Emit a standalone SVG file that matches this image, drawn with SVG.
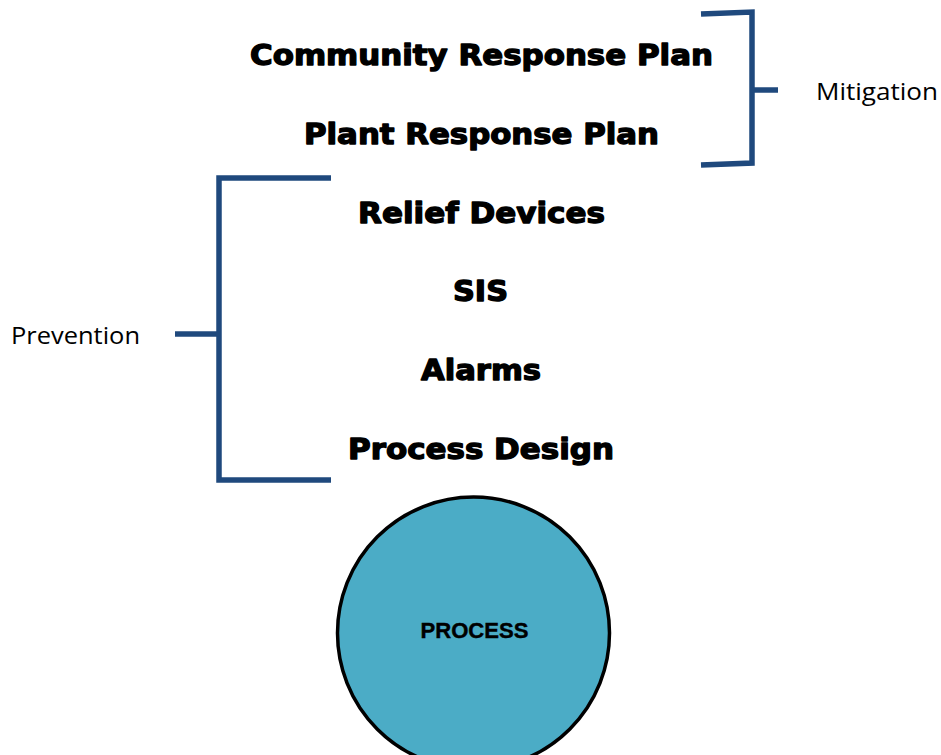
<svg xmlns="http://www.w3.org/2000/svg" width="941" height="755" viewBox="0 0 941 755">
  <style>
    .layer { font-family: "DejaVu Sans", "Liberation Sans", sans-serif; font-weight: bold; font-size: 27.5px; fill: #000; stroke: #000; stroke-width: 1.3; stroke-linejoin: round; text-anchor: middle; }
    .side { font-family: "Open Sans", "Noto Sans", sans-serif; font-size: 23px; fill: #000; }
    .bracket { fill: none; stroke: #1F497D; stroke-width: 5.5; stroke-linejoin: miter; }
    .core { fill: #4BACC6; stroke: #000; stroke-width: 3.5; }
    .core-label { font-family: "Liberation Sans", "Open Sans", sans-serif; font-weight: bold; font-size: 22.5px; fill: #000; stroke: #000; stroke-width: 0.4; text-anchor: middle; }
  </style>
  <rect width="941" height="755" fill="#fff"/>

  <!-- brackets grouping the protection layers -->
  <g id="connectors">
    <path class="bracket" d="M701 14 L752 12 L752 163 L701 165"/>
    <path class="bracket" d="M752 90 L778 90"/>
    <path class="bracket" d="M331 178 L219 178 L219 480 L331 480"/>
    <path class="bracket" d="M175 334 L219 334"/>
  </g>

  <g id="community-response-plan">
    <text class="layer" x="481.5" y="65" textLength="463" lengthAdjust="spacingAndGlyphs">Community Response Plan</text>
  </g>
  <g id="plant-response-plan">
    <text class="layer" x="481.5" y="144" textLength="355" lengthAdjust="spacingAndGlyphs">Plant Response Plan</text>
  </g>
  <g id="relief-devices">
    <text class="layer" x="481.5" y="223" textLength="247" lengthAdjust="spacingAndGlyphs">Relief Devices</text>
  </g>
  <g id="sis">
    <text class="layer" x="480.5" y="301" textLength="55" lengthAdjust="spacingAndGlyphs">SIS</text>
  </g>
  <g id="alarms">
    <text class="layer" x="481" y="380" textLength="120" lengthAdjust="spacingAndGlyphs">Alarms</text>
  </g>
  <g id="process-design">
    <text class="layer" x="481" y="459" textLength="266" lengthAdjust="spacingAndGlyphs">Process Design</text>
  </g>

  <g id="mitigation">
    <text class="side" x="816" y="100" textLength="122" lengthAdjust="spacingAndGlyphs">Mitigation</text>
  </g>
  <g id="prevention">
    <text class="side" x="11" y="344" textLength="129" lengthAdjust="spacingAndGlyphs">Prevention</text>
  </g>

  <g id="process">
    <circle class="core" cx="473.5" cy="633" r="136"/>
    <text class="core-label" x="474.5" y="638" textLength="108" lengthAdjust="spacingAndGlyphs">PROCESS</text>
  </g>
</svg>
